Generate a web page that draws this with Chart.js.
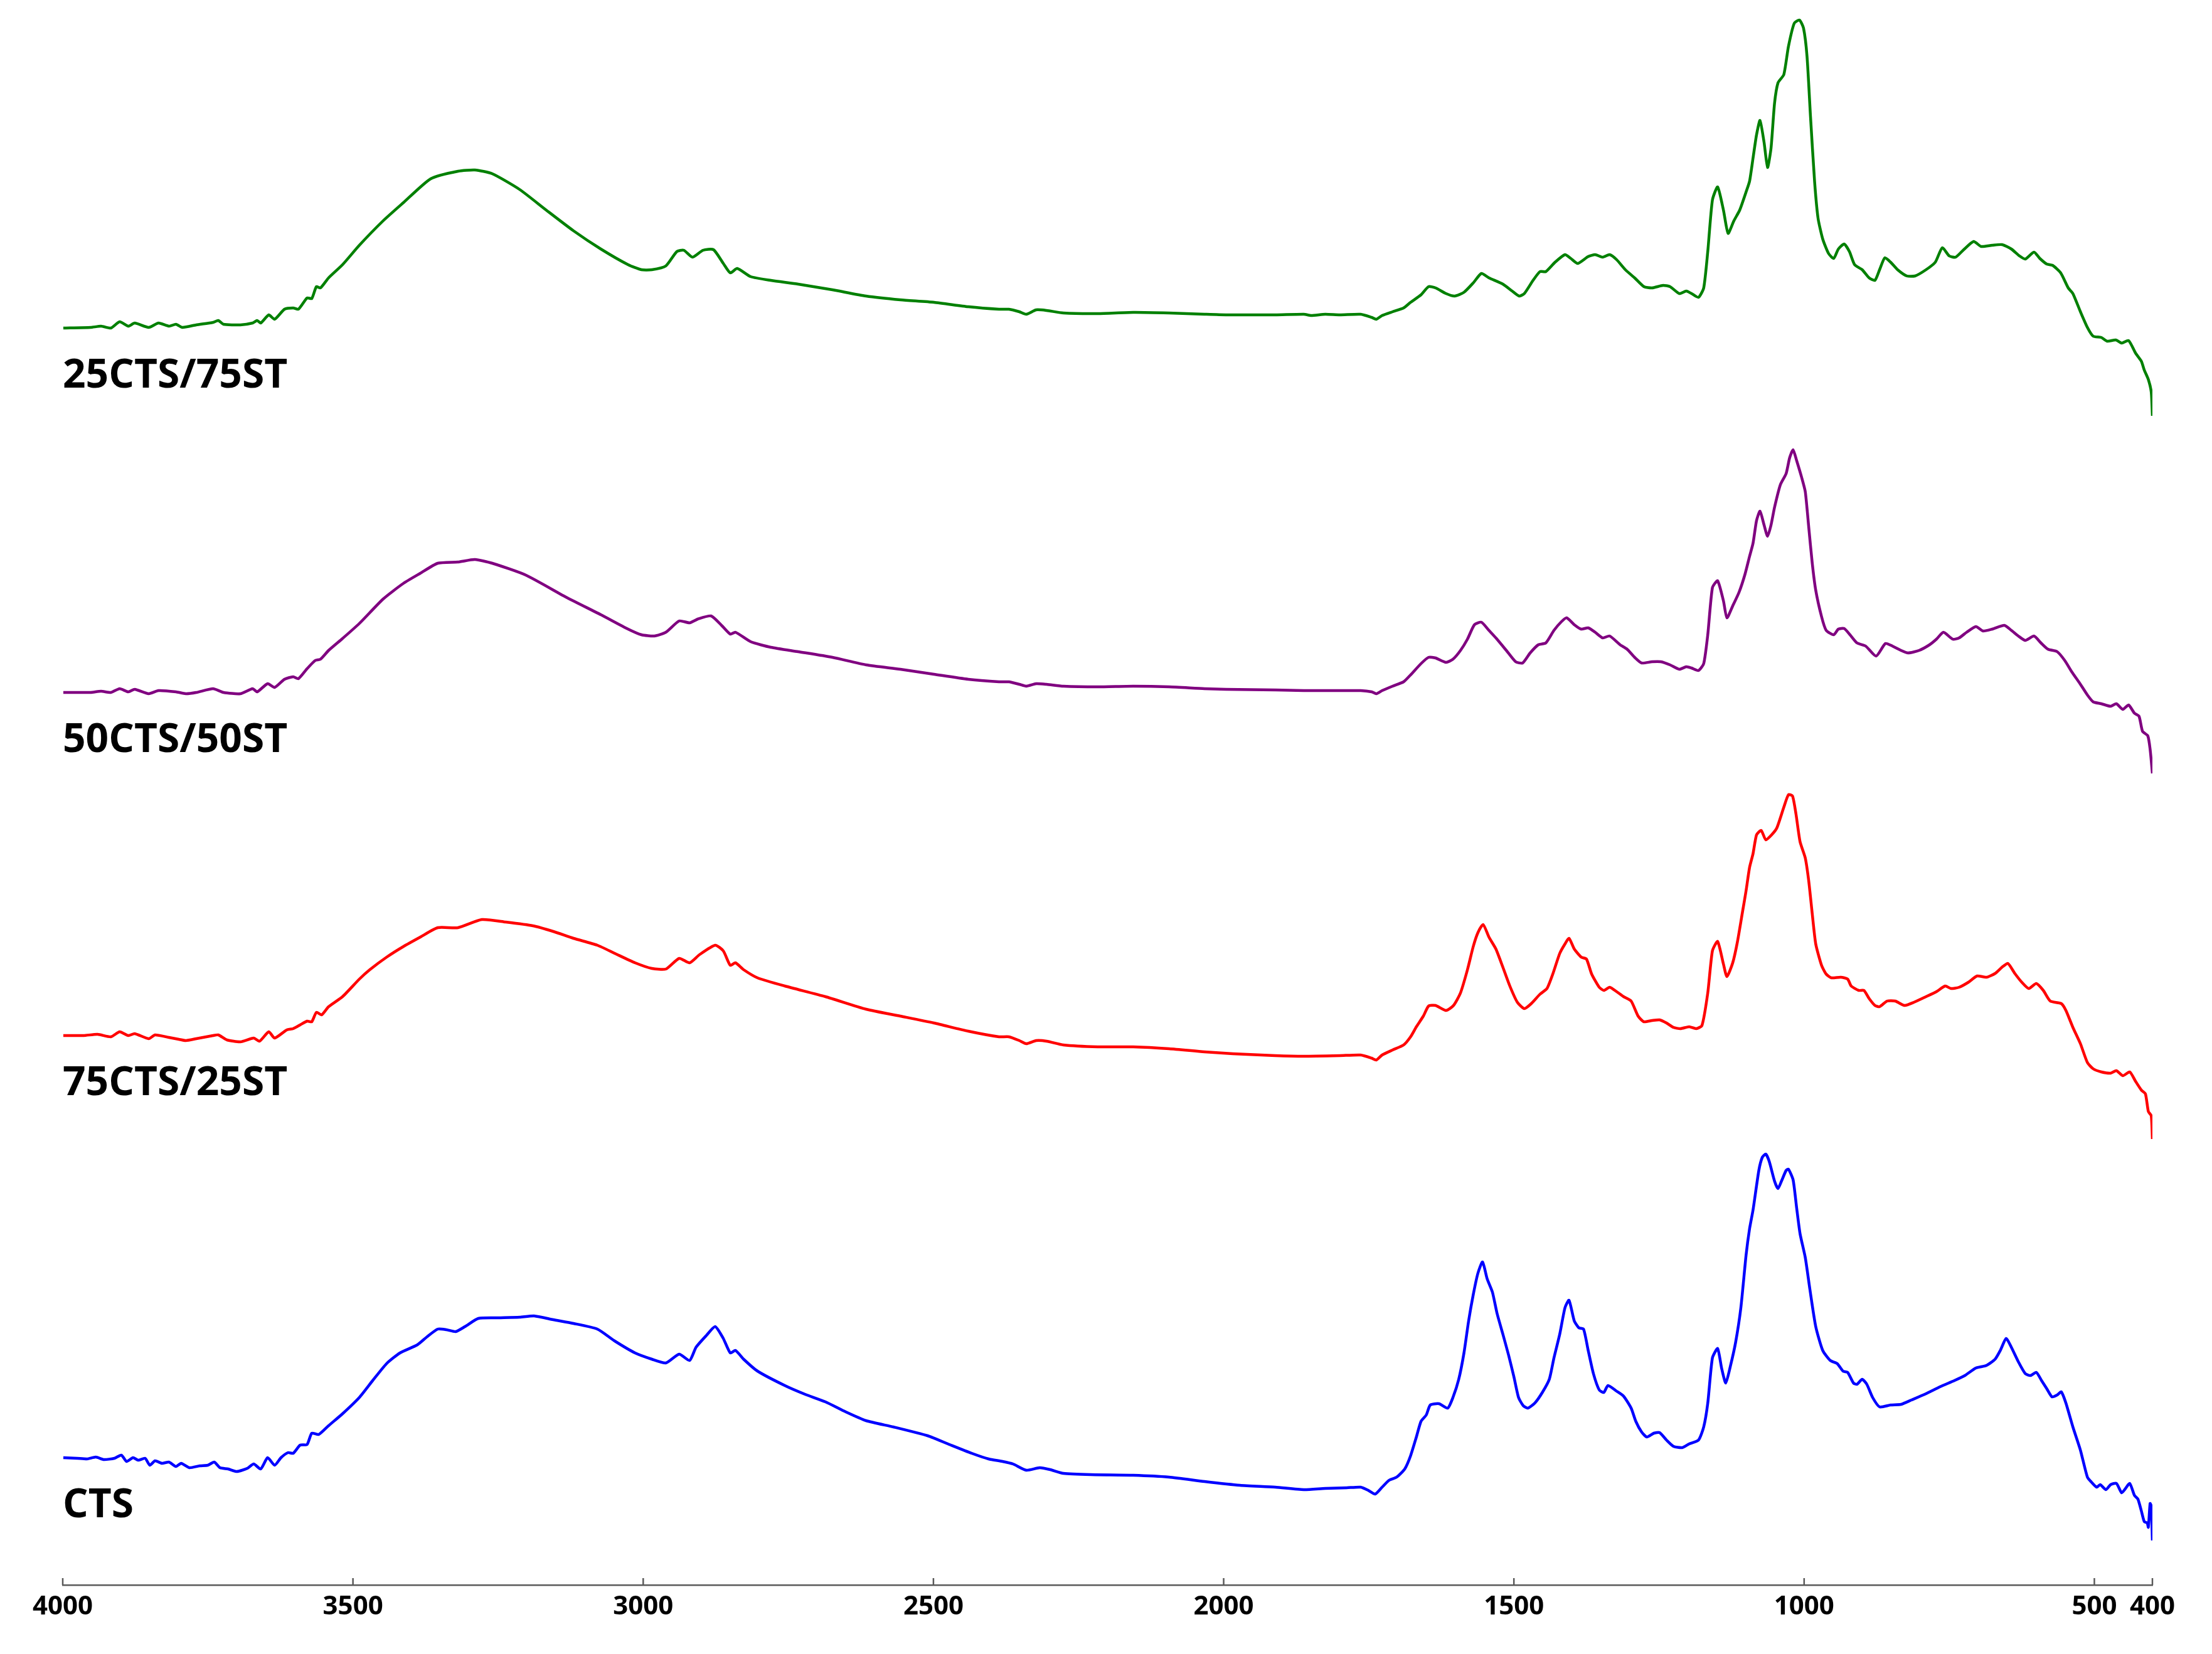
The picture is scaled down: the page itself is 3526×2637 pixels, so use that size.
<!DOCTYPE html>
<html>
<head>
<meta charset="utf-8">
<title>FTIR spectra</title>
<script src="https://cdn.jsdelivr.net/npm/chart.js@4.4.1/dist/chart.umd.min.js"></script>
<style>
  html, body { margin: 0; padding: 0; background: #fff; }
  #wrap { width: 3526px; height: 2637px; }
</style>
</head>
<body>
<div id="wrap"><canvas id="ftirChart" width="3526" height="2637"></canvas></div>
<script>
// sample names, top to bottom
const sampleNames = ['25CTS/75ST', '50CTS/50ST', '75CTS/25ST', 'CTS'];
const lineColors = ['#008000', '#800080', '#ff0000', '#0000ff'];
const tickValues = [4000, 3500, 3000, 2500, 2000, 1500, 1000, 500, 400];

// spectra: wavenumber (cm-1) and stacked intensity (a.u. x1000, offset per sample)
const wn25 = [3999,3952,3934,3917,3902,3887,3876,3852,3835,3817,3805,3794,3770,3741,3732,3723,3694,3673,3665,3659,3645,3635,3618,3603,3594,3579,3571,3563,3556,3542,3518,3489,3448,3413,3366,3319,3290,3260,3213,3167,3120,3073,3026,3003,2985,2961,2942,2930,2915,2897,2879,2862,2850,2838,2815,2780,2733,2674,2616,2557,2499,2440,2387,2370,2352,2340,2323,2305,2276,2217,
  2156,2094,2033,1996,1911,1862,1849,1825,1800,1764,1745,1737,1727,1709,1690,1678,1660,1647,1635,1617,1602,1586,1570,1556,1543,1519,1503,1491,1482,1467,1455,1445,1429,1412,1402,1390,1372,1360,1347,1335,1323,1308,1292,1276,1262,1243,1231,1215,1203,1194,1182,1173,1166,1158,1149,1139,1131,1121,1111,1100,1094,1088,1082,1076,1069,1063,1057,1051,1045,1035,1027,1017,1008,1001,995,989,982,976,968,958,949,941,931,922,913,900,888,878,870,861,851,839,823,809,790,774,762,750,739,725,708,695,676,659,643,629,619,604,594,582,572,558,545,537,524,512,502,488,478,463,453,441,429,419,414,407,402,400];
const abs25 = [2004,2005,2007,2004,2014,2007,2012,2005,2012,2007,2010,2005,2009,2013,2016,2010,2009,2012,2016,2012,2025,2018,2034,2036,2034,2052,2051,2070,2068,2084,2105,2136,2175,2204,2242,2254,2256,2250,2225,2192,2159,2130,2105,2097,2097,2103,2126,2128,2117,2128,2129,2107,2092,2099,2086,2080,2074,2065,2055,2049,2045,2038,2034,2034,2030,2026,2033,2032,2028,2027,
  2029,2028,2026,2025,2025,2026,2024,2026,2025,2026,2021,2018,2024,2030,2036,2045,2057,2070,2068,2059,2055,2061,2076,2091,2084,2074,2063,2055,2059,2080,2094,2094,2109,2121,2115,2107,2118,2121,2117,2121,2113,2097,2084,2070,2068,2072,2070,2059,2063,2059,2053,2068,2126,2208,2229,2192,2155,2175,2192,2221,2238,2275,2312,2335,2300,2260,2291,2362,2395,2408,2453,2490,2495,2482,2437,2341,2238,2179,2146,2123,2115,2130,2138,2126,2105,2097,2084,2080,2097,2116,2109,2097,2087,2087,2097,2109,2132,2119,2117,2129,2142,2134,2136,2137,2130,2119,2114,2125,2115,2106,2104,2092,2068,2059,2030,2005,1991,1989,1983,1985,1980,1984,1964,1951,1937,1922,1902,1864];

const wn50 = [3999,3952,3934,3917,3902,3887,3876,3852,3835,3805,3788,3770,3741,3723,3694,3673,3665,3647,3635,3618,3603,3594,3579,3565,3556,3542,3518,3489,3448,3413,3384,3354,3319,3290,3260,3202,3131,3073,3026,3003,2981,2961,2938,2920,2906,2883,2864,2850,2841,2815,2780,2733,2674,2616,2557,2499,2440,2387,2370,2352,2340,2323,2305,2276,2217,
  2156,2094,2033,1996,1911,1862,1800,1764,1745,1737,1727,1709,1690,1678,1660,1647,1635,1617,1605,1592,1580,1568,1556,1543,1531,1513,1497,1485,1472,1458,1445,1431,1418,1409,1396,1384,1372,1360,1347,1335,1317,1305,1292,1280,1262,1247,1231,1215,1203,1194,1182,1173,1166,1158,1149,1139,1133,1123,1112,1102,1094,1088,1082,1076,1069,1063,1057,1051,1041,1031,1025,1019,1013,1004,998,992,986,980,970,962,949,941,931,921,909,894,876,860,848,833,821,802,784,772,760,744,733,720,704,692,676,655,643,631,619,604,592,580,564,551,539,524,512,502,488,472,462,451,441,431,423,417,408,404,400];
const abs50 = [1423,1423,1425,1423,1429,1424,1428,1421,1426,1424,1421,1423,1429,1423,1421,1429,1424,1437,1431,1444,1448,1445,1461,1474,1476,1490,1509,1533,1572,1597,1613,1629,1631,1635,1629,1610,1574,1547,1524,1515,1513,1519,1537,1534,1540,1545,1529,1516,1519,1504,1495,1488,1479,1467,1460,1452,1444,1440,1440,1436,1433,1437,1436,1433,1432,
  1433,1432,1429,1428,1427,1426,1426,1426,1424,1421,1426,1433,1440,1451,1469,1479,1478,1471,1476,1490,1508,1531,1535,1522,1510,1490,1472,1470,1486,1499,1502,1522,1536,1542,1531,1524,1526,1519,1510,1513,1499,1492,1479,1470,1472,1472,1467,1460,1464,1462,1458,1469,1515,1590,1601,1569,1542,1561,1583,1611,1640,1661,1697,1712,1690,1672,1690,1718,1754,1772,1797,1810,1793,1765,1743,1686,1629,1586,1544,1522,1515,1524,1525,1515,1502,1497,1481,1501,1497,1490,1486,1490,1499,1508,1519,1508,1510,1519,1528,1521,1524,1530,1522,1513,1506,1513,1502,1492,1488,1474,1456,1436,1419,1408,1405,1401,1405,1396,1403,1390,1385,1361,1354,1333,1294];

const wn75 = [3999,3964,3940,3917,3902,3887,3876,3852,3841,3817,3800,3788,3770,3741,3732,3717,3694,3671,3661,3645,3635,3614,3603,3591,3579,3571,3563,3554,3542,3518,3489,3471,3442,3413,3384,3354,3319,3278,3237,3190,3155,3120,3079,3049,3014,2985,2961,2938,2920,2903,2876,2862,2850,2841,2827,2803,2756,2686,2616,2557,2499,2440,2387,2370,2352,2340,2323,2305,2276,2217,
  2156,2094,2033,1984,1911,1862,1800,1764,1745,1737,1727,1709,1690,1678,1668,1656,1647,1635,1617,1604,1592,1580,1570,1562,1553,1543,1531,1519,1507,1494,1482,1470,1455,1443,1433,1421,1412,1405,1396,1384,1375,1366,1353,1345,1335,1323,1311,1298,1286,1276,1262,1249,1237,1225,1213,1198,1186,1176,1166,1158,1149,1139,1133,1123,1115,1106,1100,1094,1088,1082,1074,1066,1056,1047,1035,1027,1020,1014,1007,998,992,986,980,970,962,953,937,925,919,906,897,888,878,870,857,843,827,811,790,772,757,747,733,717,702,686,671,659,649,637,625,613,600,588,576,557,549,537,524,512,502,488,472,462,451,439,429,419,412,407,402,400];
const abs75 = [876,876,878,874,882,876,879,871,877,873,870,868,871,876,877,869,866,872,867,882,872,885,887,893,899,898,913,909,922,938,966,981,1001,1018,1033,1048,1048,1061,1057,1051,1042,1031,1020,1007,992,983,982,999,992,1005,1020,1011,988,992,981,968,955,938,918,907,896,883,874,874,868,863,868,867,861,858,
  858,855,850,847,844,843,844,845,840,837,845,853,861,874,890,907,923,924,916,924,944,981,1018,1040,1053,1033,1014,985,955,929,919,927,942,951,974,1007,1022,1031,1014,1001,998,974,953,948,953,946,938,931,907,898,900,901,896,889,887,890,887,892,944,1011,1026,990,970,992,1025,1074,1107,1144,1166,1196,1203,1188,1196,1207,1240,1260,1258,1229,1185,1159,1122,1070,1022,988,974,968,969,966,955,948,948,935,924,922,931,931,924,929,938,946,955,951,953,961,971,969,975,985,991,975,961,951,959,948,931,927,916,889,863,833,823,818,816,820,812,818,803,789,783,755,748,711];

const wnCts = [3999,3975,3958,3943,3929,3911,3899,3890,3879,3870,3858,3850,3841,3829,3817,3805,3796,3782,3764,3750,3739,3729,3715,3700,3682,3671,3659,3647,3635,3624,3612,3603,3591,3579,3571,3559,3542,3518,3489,3466,3442,3419,3389,3372,3354,3339,3323,3307,3284,3249,3213,3188,3155,3120,3079,3049,3014,2985,2961,2938,2920,2909,2891,2876,2862,2850,2841,2827,2803,2756,2721,2686,2651,2616,2569,2510,2475,2434,2405,2381,2363,2340,2317,2299,2276,2229,
  2156,2094,2033,1972,1911,1862,1825,1788,1764,1751,1739,1727,1715,1702,1688,1678,1668,1660,1651,1644,1629,1614,1605,1595,1586,1578,1570,1562,1554,1546,1537,1529,1519,1509,1500,1492,1484,1476,1464,1451,1439,1431,1421,1412,1405,1396,1388,1380,1372,1363,1353,1345,1338,1323,1311,1298,1290,1280,1271,1259,1249,1237,1225,1210,1198,1182,1173,1166,1158,1149,1142,1135,1127,1118,1109,1100,1094,1088,1078,1072,1066,1060,1051,1045,1039,1031,1027,1019,1013,1007,998,990,980,968,955,943,933,925,915,909,900,892,882,870,851,833,815,790,766,741,723,704,686,671,662,652,643,631,619,610,600,591,582,573,564,557,549,537,524,512,505,496,490,480,472,462,453,447,439,431,425,419,414,409,407,404,402,400];
const absCts = [203,202,201,204,200,202,207,197,203,199,202,191,198,194,196,189,194,187,190,191,196,187,185,181,186,193,185,203,191,203,211,210,223,224,242,240,254,273,299,326,353,370,383,396,408,407,404,412,425,426,427,429,423,417,408,389,370,360,354,368,358,379,398,412,393,370,374,360,341,318,304,292,276,262,252,238,225,210,201,197,193,183,187,184,178,176,
  175,172,165,159,156,152,154,155,156,151,145,156,167,172,185,206,236,261,271,287,289,282,299,328,370,421,463,497,515,488,467,433,400,366,332,299,286,282,290,307,328,362,400,442,454,421,410,408,374,337,311,307,318,309,301,282,261,244,236,242,243,231,221,219,225,231,252,290,362,377,345,322,349,387,442,526,568,598,661,682,687,675,644,632,644,661,663,646,602,560,522,471,412,374,358,353,341,339,322,320,328,320,299,284,287,288,295,305,316,326,334,346,350,360,374,393,379,356,337,334,339,326,313,300,303,308,290,252,215,172,164,156,160,152,160,162,147,153,162,143,137,118,101,99,92,130,126,71];

const spectra = [[wn25, abs25], [wn50, abs50], [wn75, abs75], [wnCts, absCts]];

// upward tick marks on the x axis + sample names under each trace
const ftirDecor = {
  id: 'ftirDecor',
  afterDraw(chart) {
    const ctx = chart.ctx;
    const xs = chart.scales.x, ys = chart.scales.y;
    const bottom = chart.chartArea.bottom;
    ctx.save();
    ctx.strokeStyle = '#595959';
    ctx.lineWidth = 2.5;
    xs.ticks.forEach(t => {
      const px = xs.getPixelForValue(t.value);
      ctx.beginPath();
      ctx.moveTo(px, bottom);
      ctx.lineTo(px, bottom - 11);
      ctx.stroke();
    });
    ctx.fillStyle = '#000';
    ctx.font = 'bold 64px "Open Sans"';
    ctx.textBaseline = 'alphabetic';
    ctx.textAlign = 'left';
    chart.data.datasets.forEach(ds => {
      const px = xs.getPixelForValue(4000);
      const py = ys.getPixelForValue(ds.data[0].y) + 95;
      ctx.fillText(ds.label, px, py);
    });
    ctx.restore();
  }
};

new Chart(document.getElementById('ftirChart'), {
  type: 'line',
  data: {
    datasets: spectra.map(([w, a], i) => ({
      label: sampleNames[i],
      data: w.map((v, k) => ({ x: v, y: a[k] })),
      borderColor: lineColors[i],
      borderWidth: 4.5,
      borderJoinStyle: 'round',
      pointRadius: 0,
      tension: 0.2,
      fill: false
    }))
  },
  options: {
    responsive: false,
    animation: false,
    devicePixelRatio: 1,
    layout: { padding: { left: 100, right: 95, top: 0, bottom: 0 } },
    plugins: { legend: { display: false }, tooltip: { enabled: false } },
    scales: {
      x: {
        type: 'linear',
        reverse: true,
        min: 400,
        max: 4000,
        afterBuildTicks: s => { s.ticks = tickValues.map(v => ({ value: v })); },
        afterFit: s => { s.height = 110; },
        grid: { display: false, drawTicks: false },
        border: { display: true, color: '#595959', width: 2.5 },
        ticks: {
          autoSkip: false,
          maxRotation: 0,
          minRotation: 0,
          padding: 10,
          color: '#000',
          font: { family: 'Open Sans', weight: 'bold', size: 42 },
          callback: v => String(v)
        }
      },
      y: { type: 'linear', display: false, min: 0, max: 2527 }
    }
  },
  plugins: [ftirDecor]
});
</script>
</body>
</html>
